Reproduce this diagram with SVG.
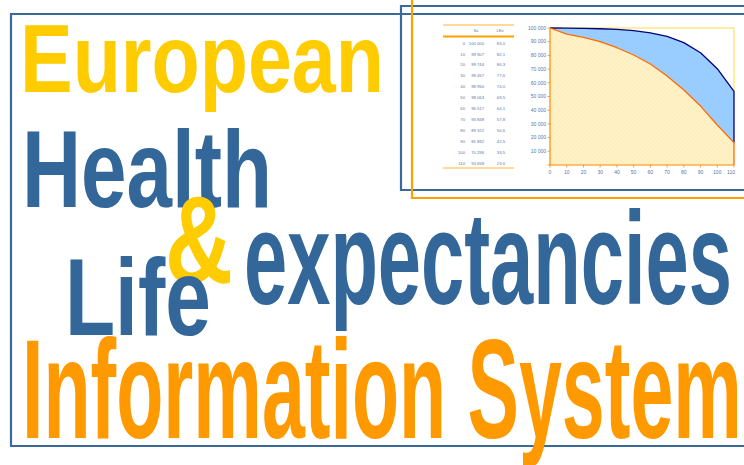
<svg xmlns="http://www.w3.org/2000/svg" width="744" height="465" viewBox="0 0 744 465">
<defs>
<pattern id="hatch" width="3" height="3" patternUnits="userSpaceOnUse" patternTransform="rotate(45)">
<rect width="3" height="3" fill="#FFF2C8"/>
<line x1="0" y1="0" x2="0" y2="3" stroke="#FCE6A6" stroke-width="1"/>
</pattern>
<style>
.big{font-family:"Liberation Sans",Arial,sans-serif;font-weight:bold}
.blue{fill:#336699}
.yel{fill:#FFCC00}
.org{fill:#FF9900}
.frame{fill:none;stroke:#3A6A9C;stroke-width:2.2}
.oframe{fill:none;stroke:#FFA200;stroke-width:2.2}
.tiny{font-family:"Liberation Sans",Arial,sans-serif;font-size:5px;fill:#5577AA}
.tbl{font-family:"Liberation Sans",Arial,sans-serif;font-size:4.2px;fill:#5577AA}
.ax{stroke:#FF8800;stroke-width:1.2;fill:none}
.tk{stroke:#FF8800;stroke-width:0.8}
</style>
</defs>
<rect width="744" height="465" fill="#FFFFFF"/>

<g id="frames">
<path class="frame" d="M750 14 H11 V446 H750"/>
<path class="frame" d="M750 6 H401 V190 H750"/>
<path class="oframe" d="M412 -5 V198 H750"/>
</g>

<g id="table">
<line x1="443" y1="25" x2="514" y2="25" stroke="#FFA200" stroke-width="0.8"/>
<line x1="443" y1="36.6" x2="514" y2="36.6" stroke="#FFA200" stroke-width="2"/>
<line x1="443" y1="168" x2="514" y2="168" stroke="#FFA200" stroke-width="0.8"/>
<text class="tbl" x="476" y="32" text-anchor="middle">Sx</text>
<text class="tbl" x="500" y="32" text-anchor="middle">LEx</text>
<g text-anchor="end">
<text class="tbl" x="465" y="45">0</text><text class="tbl" x="484" y="45">100 000</text><text class="tbl" x="505" y="45">83,0</text>
<text class="tbl" x="465" y="55.5">10</text><text class="tbl" x="484" y="55.5">99 907</text><text class="tbl" x="505" y="55.5">82,1</text>
<text class="tbl" x="465" y="66">20</text><text class="tbl" x="484" y="66">99 744</text><text class="tbl" x="505" y="66">80,3</text>
<text class="tbl" x="465" y="76.5">30</text><text class="tbl" x="484" y="76.5">99 457</text><text class="tbl" x="505" y="76.5">77,6</text>
<text class="tbl" x="465" y="87.5">40</text><text class="tbl" x="484" y="87.5">98 950</text><text class="tbl" x="505" y="87.5">74,0</text>
<text class="tbl" x="465" y="99">50</text><text class="tbl" x="484" y="99">98 063</text><text class="tbl" x="505" y="99">69,5</text>
<text class="tbl" x="465" y="110">60</text><text class="tbl" x="484" y="110">96 517</text><text class="tbl" x="505" y="110">64,1</text>
<text class="tbl" x="465" y="120.8">70</text><text class="tbl" x="484" y="120.8">93 848</text><text class="tbl" x="505" y="120.8">57,8</text>
<text class="tbl" x="465" y="131.7">80</text><text class="tbl" x="484" y="131.7">89 322</text><text class="tbl" x="505" y="131.7">50,6</text>
<text class="tbl" x="465" y="142.7">90</text><text class="tbl" x="484" y="142.7">81 892</text><text class="tbl" x="505" y="142.7">42,5</text>
<text class="tbl" x="465" y="153.7">100</text><text class="tbl" x="484" y="153.7">70 296</text><text class="tbl" x="505" y="153.7">33,5</text>
<text class="tbl" x="465" y="165">110</text><text class="tbl" x="484" y="165">53 658</text><text class="tbl" x="505" y="165">23,6</text>
</g>
</g>

<g id="chart">
<polygon points="550,28 566.73,28.13 583.45,28.35 600.18,28.74 616.91,29.44 633.64,30.65 650.36,32.77 667.09,36.43 683.82,42.63 700.55,52.81 717.27,68.69 734,91.49 734,142.67 717.27,125 700.55,106.09 683.82,90.06 667.09,75.95 650.36,64.03 633.64,54.99 616.91,47.73 600.18,41.7 583.45,37.32 566.73,34.03" fill="#99CCFF"/>
<polygon points="550,28 566.73,34.03 583.45,37.32 600.18,41.7 616.91,47.73 633.64,54.99 650.36,64.03 667.09,75.95 683.82,90.06 700.55,106.09 717.27,125 734,142.67 734,165 550,165" fill="url(#hatch)"/>
<path d="M550 28 H734 V92" fill="none" stroke="#FFDD44" stroke-width="1"/>
<polyline points="550,28 566.73,28.13 583.45,28.35 600.18,28.74 616.91,29.44 633.64,30.65 650.36,32.77 667.09,36.43 683.82,42.63 700.55,52.81 717.27,68.69 734,91.49 734,142.67" fill="none" stroke="#000080" stroke-width="1.3" stroke-linejoin="round"/>
<polyline points="550,28 566.73,34.03 583.45,37.32 600.18,41.7 616.91,47.73 633.64,54.99 650.36,64.03 667.09,75.95 683.82,90.06 700.55,106.09 717.27,125 734,142.67 734,165" fill="none" stroke="#FF6A00" stroke-width="1.3" stroke-linejoin="round"/>
<path class="ax" d="M550 28 V165 H734"/>
<g class="tk">
<line x1="547.5" y1="28" x2="550" y2="28"/><line x1="547.5" y1="41.7" x2="550" y2="41.7"/><line x1="547.5" y1="55.4" x2="550" y2="55.4"/><line x1="547.5" y1="69.1" x2="550" y2="69.1"/><line x1="547.5" y1="82.8" x2="550" y2="82.8"/><line x1="547.5" y1="96.5" x2="550" y2="96.5"/><line x1="547.5" y1="110.2" x2="550" y2="110.2"/><line x1="547.5" y1="123.9" x2="550" y2="123.9"/><line x1="547.5" y1="137.6" x2="550" y2="137.6"/><line x1="547.5" y1="151.3" x2="550" y2="151.3"/><line x1="547.5" y1="165" x2="550" y2="165"/>
<line x1="550" y1="165" x2="550" y2="167.5"/><line x1="566.73" y1="165" x2="566.73" y2="167.5"/><line x1="583.45" y1="165" x2="583.45" y2="167.5"/><line x1="600.18" y1="165" x2="600.18" y2="167.5"/><line x1="616.91" y1="165" x2="616.91" y2="167.5"/><line x1="633.64" y1="165" x2="633.64" y2="167.5"/><line x1="650.36" y1="165" x2="650.36" y2="167.5"/><line x1="667.09" y1="165" x2="667.09" y2="167.5"/><line x1="683.82" y1="165" x2="683.82" y2="167.5"/><line x1="700.55" y1="165" x2="700.55" y2="167.5"/><line x1="717.27" y1="165" x2="717.27" y2="167.5"/><line x1="734" y1="165" x2="734" y2="167.5"/>
</g>
<g text-anchor="end">
<text class="tiny" x="546" y="29.7">100 000</text>
<text class="tiny" x="546" y="43.4">90 000</text>
<text class="tiny" x="546" y="57.1">80 000</text>
<text class="tiny" x="546" y="70.8">70 000</text>
<text class="tiny" x="546" y="84.5">60 000</text>
<text class="tiny" x="546" y="98.2">50 000</text>
<text class="tiny" x="546" y="111.9">40 000</text>
<text class="tiny" x="546" y="125.6">30 000</text>
<text class="tiny" x="546" y="139.3">20 000</text>
<text class="tiny" x="546" y="153">10 000</text>
</g>
<g text-anchor="middle">
<text class="tiny" x="550" y="174">0</text>
<text class="tiny" x="566.73" y="174">10</text>
<text class="tiny" x="583.45" y="174">20</text>
<text class="tiny" x="600.18" y="174">30</text>
<text class="tiny" x="616.91" y="174">40</text>
<text class="tiny" x="633.64" y="174">50</text>
<text class="tiny" x="650.36" y="174">60</text>
<text class="tiny" x="667.09" y="174">70</text>
<text class="tiny" x="683.82" y="174">80</text>
<text class="tiny" x="700.55" y="174">90</text>
<text class="tiny" x="717.27" y="174">100</text>
<text class="tiny" x="731" y="174">110</text>
</g>
</g>

<g id="title">
<text id="european" class="big yel" font-size="96" transform="translate(20 92) scale(0.822 1)">European</text>
<text id="health" class="big blue" font-size="110" transform="translate(22 207) scale(0.744 1)">Health</text>
<text id="amp" class="big yel" font-size="125" transform="translate(165 283) scale(0.753 1)">&amp;</text>
<text id="life" class="big blue" font-size="110" transform="translate(65 335) scale(0.746 1)">Life</text>
<text id="expectancies" class="big blue" font-size="131" transform="translate(244 304) scale(0.593 1)">expectancies</text>
<text id="information" class="big org" font-size="141" transform="translate(22 438) scale(0.547 1)">Information System</text>
</g>
</svg>
